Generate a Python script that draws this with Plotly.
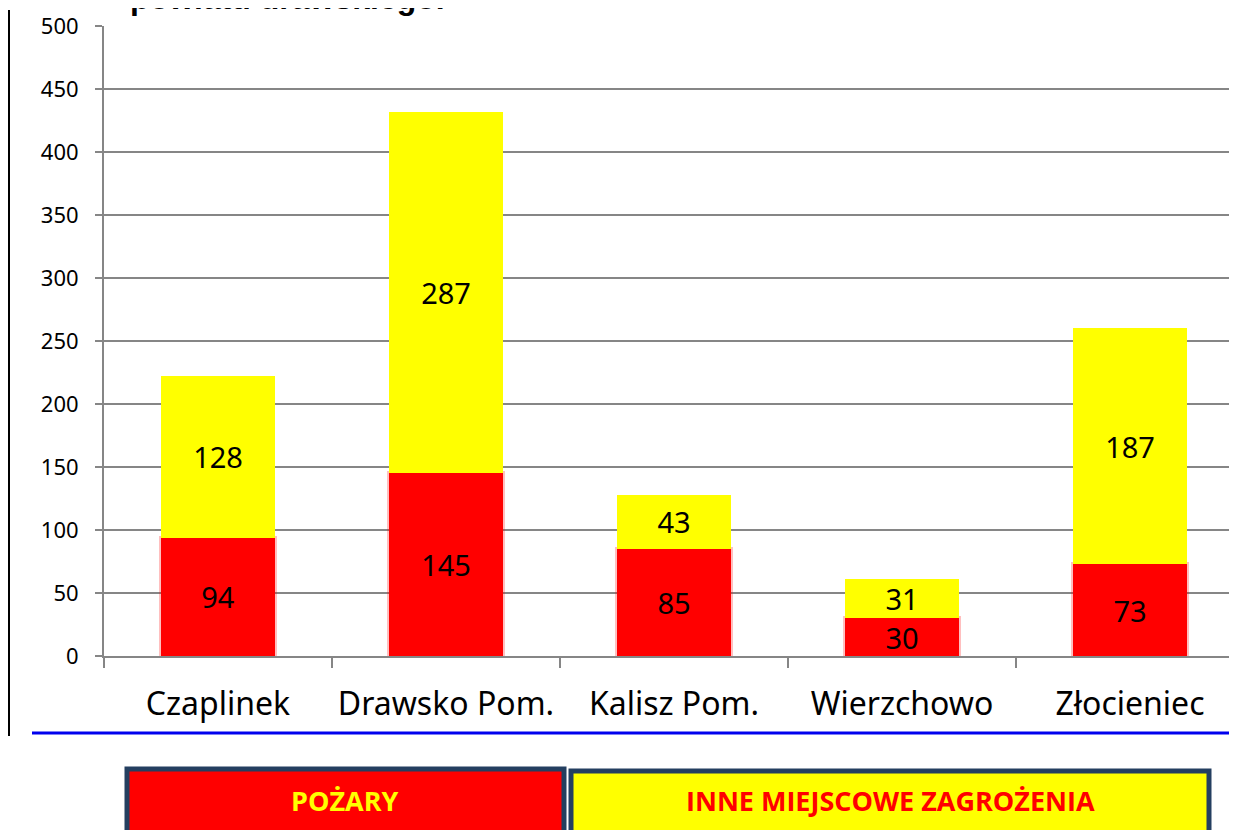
import plotly.graph_objects as go

categories = ["Czaplinek", "Drawsko Pom.", "Kalisz Pom.", "Wierzchowo", "Złocieniec"]
pozary = [94, 145, 85, 30, 73]
inne = [128, 287, 43, 31, 187]
y_ticks = [0, 50, 100, 150, 200, 250, 300, 350, 400, 450, 500]
series_names = ["POŻARY", "INNE MIEJSCOWE ZAGROŻENIA"]
title_text = "powiatu drawskiego."

OFF = 8  # default body margin of the page
W, H = 1237 - OFF, 830 - OFF
L, T, B, R = 104 - OFF, 26 - OFF, 174, 0
pw, ph = W - L - R, H - T - B

def px(x):
    return (x - OFF - L) / pw

def py(y):
    return (H - B - (y - OFF)) / ph

FONT = "Noto Sans"

fig = go.Figure()
fig.add_trace(go.Bar(
    x=categories, y=pozary, name=series_names[0],
    marker=dict(color="#FF0000", line=dict(width=4, color="rgba(255,0,0,0.25)")),
    text=pozary, textposition="inside", insidetextanchor="middle",
    textfont=dict(family=FONT, size=29, color="black"),
    textangle=0, constraintext="none",
))
fig.add_trace(go.Bar(
    x=categories, y=inne, name=series_names[1],
    marker=dict(color="#FFFF00", line=dict(width=0)),
    text=inne, textposition="inside", insidetextanchor="middle",
    textfont=dict(family=FONT, size=29, color="black"),
    textangle=0, constraintext="none",
))

shapes = [
    dict(type="line", xref="paper", yref="paper", x0=px(9), x1=px(9), y0=py(10), y1=py(736),
         line=dict(color="black", width=2)),
    dict(type="line", xref="paper", yref="paper", x0=px(32), x1=px(1240), y0=py(733), y1=py(733),
         line=dict(color="#0000EE", width=3)),
    dict(type="rect", xref="paper", yref="paper", x0=px(127), x1=px(564), y0=py(769), y1=py(845),
         fillcolor="#FF0000", line=dict(color="#243F60", width=5)),
    dict(type="rect", xref="paper", yref="paper", x0=px(571), x1=px(1209), y0=py(771), y1=py(845),
         fillcolor="#FFFF00", line=dict(color="#243F60", width=5)),
]

annotations = [
    dict(text="<b>" + series_names[0] + "</b>", x=px(345), y=py(800), xref="paper", yref="paper",
         showarrow=False, font=dict(family="Open Sans", size=27, color="#FFFF00"),
         xanchor="center", yanchor="middle"),
    dict(text="<b>" + series_names[1] + "</b>", x=px(890), y=py(800), xref="paper", yref="paper",
         showarrow=False, font=dict(family="Open Sans", size=27, color="#FF0000"),
         xanchor="center", yanchor="middle"),
    dict(text="<b>" + title_text + "</b>", x=px(128), y=py(-2), xref="paper", yref="paper",
         showarrow=False, font=dict(family="Liberation Sans", size=32, color="black"),
         xanchor="left", yanchor="middle"),
]

fig.update_layout(
    width=W, height=H,
    margin=dict(l=L, r=R, t=T, b=B, autoexpand=False),
    barmode="stack", bargap=0.5,
    showlegend=False,
    plot_bgcolor="white", paper_bgcolor="white",
    shapes=shapes, annotations=annotations,
    font=dict(family=FONT, color="black"),
    uniformtext=dict(minsize=29, mode="show"),
)
fig.update_xaxes(
    range=[-0.5, -0.5 + pw / 228.0],
    showline=True, linecolor="#868686", linewidth=2,
    ticks="outside", tickson="boundaries", ticklen=10, tickcolor="#868686", tickwidth=2,
    tickfont=dict(family=FONT, size=32, color="black"),
    ticklabelstandoff=19,
    showgrid=False,
)
fig.update_yaxes(
    range=[0, 500], tickvals=y_ticks,
    showline=True, linecolor="#868686", linewidth=2,
    ticks="outside", ticklen=7, tickcolor="#868686", tickwidth=2,
    showgrid=True, gridcolor="#868686", gridwidth=2,
    tickfont=dict(family=FONT, size=22, color="black"),
    ticklabelstandoff=12,
    zeroline=False,
)

fig.write_html("out.html")
